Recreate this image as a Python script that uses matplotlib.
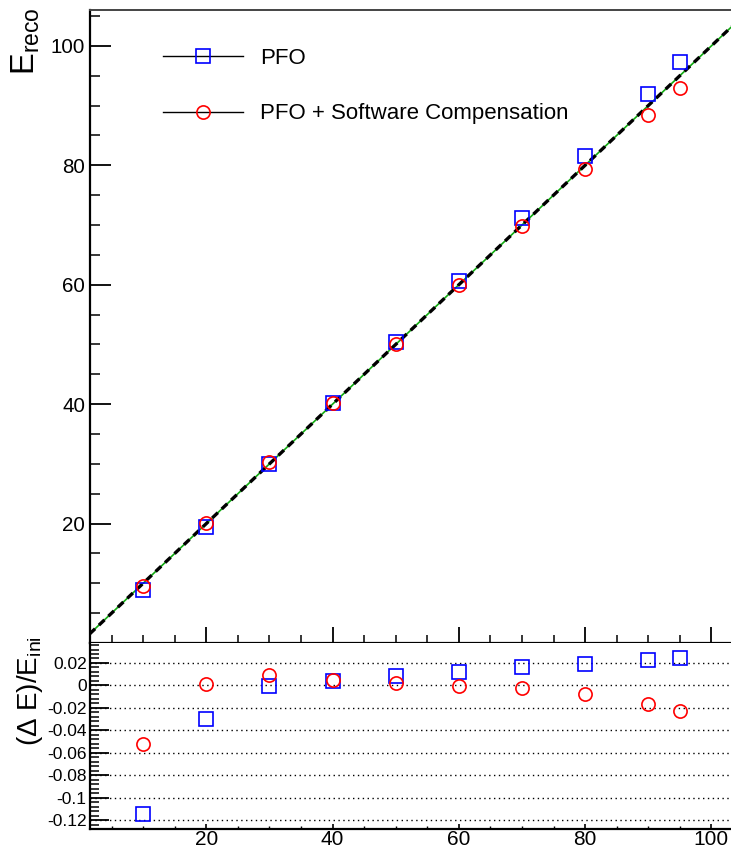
import matplotlib
matplotlib.use("Agg")
import matplotlib.pyplot as plt
from matplotlib.lines import Line2D
from matplotlib.ticker import MultipleLocator, FuncFormatter

plt.rcParams["font.family"] = ["Liberation Sans", "DejaVu Sans"]
plt.rcParams["mathtext.fontset"] = "custom"
plt.rcParams["mathtext.rm"] = "Liberation Sans"
plt.rcParams["mathtext.it"] = "Liberation Sans"
plt.rcParams["axes.unicode_minus"] = False

# beam energies
e_ini = [10, 20, 30, 40, 50, 60, 70, 80, 90, 95]

# reconstructed energy (top panel)
reco_pfo = [8.85, 19.4, 29.97, 40.17, 50.4, 60.7, 71.1, 81.6, 92.0, 97.3]
reco_sc = [9.48, 20.02, 30.3, 40.2, 50.1, 60.0, 69.8, 79.35, 88.5, 92.9]

# relative deviation (bottom panel)
dev_pfo = [-0.1147, -0.0296, -0.0009, 0.0042, 0.0087, 0.012, 0.0162, 0.0195, 0.0225, 0.0243]
dev_sc = [-0.0518, 0.0012, 0.0096, 0.0048, 0.0021, -0.0003, -0.0027, -0.0081, -0.0165, -0.0225]

labels = ["PFO", "PFO + Software Compensation"]

W, H = 731, 851
fig = plt.figure(figsize=(W / 100, H / 100), dpi=100)

left = 89.5 / W
width = (743 - 89.5) / W
ax = fig.add_axes([left, (H - 643) / H, width, (643 - 10) / H])
axr = fig.add_axes([left, (H - 829) / H, width, (829 - 643) / H], sharex=ax)

mk = dict(linestyle="none", markersize=9.5, markerfacecolor="none", markeredgewidth=1.2)

# top panel
ax.axline((0, 0), slope=1, color="#11aa11", lw=1.2, zorder=2)
ax.axline((0, 0), slope=1, color="black", lw=2.4, ls=(0, (2.3, 1.6)), zorder=3)
ax.plot(e_ini, reco_pfo, marker="s", markeredgecolor="blue", zorder=4, **mk)
ax.plot(e_ini, reco_sc, marker="o", markeredgecolor="red", zorder=4, **mk)

ax.set_xlim(1.5, 105)
ax.set_ylim(0, 106)
ax.yaxis.set_minor_locator(MultipleLocator(5))
ax.xaxis.set_major_locator(MultipleLocator(20))
ax.xaxis.set_minor_locator(MultipleLocator(5))
ax.set_yticks([20, 40, 60, 80, 100])
ax.tick_params(axis="y", which="major", direction="in", length=15, width=1.3, labelsize=14.8, pad=3)
ax.tick_params(axis="y", which="minor", direction="in", length=7, width=1.1)
ax.tick_params(axis="x", which="major", direction="in", length=11.5, width=1.3, labelbottom=False)
ax.tick_params(axis="x", which="minor", direction="in", length=5.8, width=1.1)
for s in ["left", "bottom"]:
    ax.spines[s].set_linewidth(1.6)
ax.spines["top"].set_linewidth(1.4)
ax.spines["top"].set_color("#444444")
ax.spines["right"].set_visible(False)

handles = [
    Line2D([], [], color="black", lw=1, marker="s", markersize=9.5, markerfacecolor="none",
           markeredgecolor="blue", markeredgewidth=1.2),
    Line2D([], [], color="black", lw=1, marker="o", markersize=9.5, markerfacecolor="none",
           markeredgecolor="red", markeredgewidth=1.2),
]
ax.legend(handles, labels, loc="upper left", bbox_to_anchor=(163 / W, 1 - 48 / H),
          bbox_transform=fig.transFigure, frameon=False, fontsize=16, borderpad=0,
          borderaxespad=0, handlelength=3.6, handletextpad=0.75, labelspacing=1.55)

fig.text(26 / W, 1 - 7 / H, r"$\mathregular{E_{reco}}$", rotation=90, ha="center", va="top",
         fontsize=23.5)

# bottom panel
axr.plot(e_ini, dev_pfo, marker="s", markeredgecolor="blue", zorder=4, **mk)
axr.plot(e_ini, dev_sc, marker="o", markeredgecolor="red", zorder=4, **mk)
axr.set_ylim(-0.128, 0.0378)
axr.yaxis.set_major_locator(MultipleLocator(0.02))
axr.yaxis.set_minor_locator(MultipleLocator(0.004))
axr.yaxis.set_major_formatter(FuncFormatter(lambda v, p: f"{round(v, 4) + 0.0:g}"))
axr.grid(axis="y", which="major", color="black", ls=(0, (1, 2.5)), lw=1.0)
axr.tick_params(axis="y", which="major", direction="in", length=13.5, width=1.3, labelsize=12.5, pad=2)
axr.tick_params(axis="y", which="minor", direction="in", length=6.5, width=1.1)
axr.tick_params(axis="x", which="major", direction="in", length=3.5, width=1.2, labelsize=15, pad=1)
axr.tick_params(axis="x", which="minor", direction="in", length=2.2, width=1.0)
for s in ["left", "bottom"]:
    axr.spines[s].set_linewidth(1.6)
axr.spines["top"].set_visible(False)
axr.spines["right"].set_visible(False)

fig.text(30 / W, 1 - 636 / H, r"$\mathregular{(\Delta\ E)/E_{ini}}$", rotation=90, ha="center",
         va="top", fontsize=20)

fig.savefig("out.png", dpi=100)
